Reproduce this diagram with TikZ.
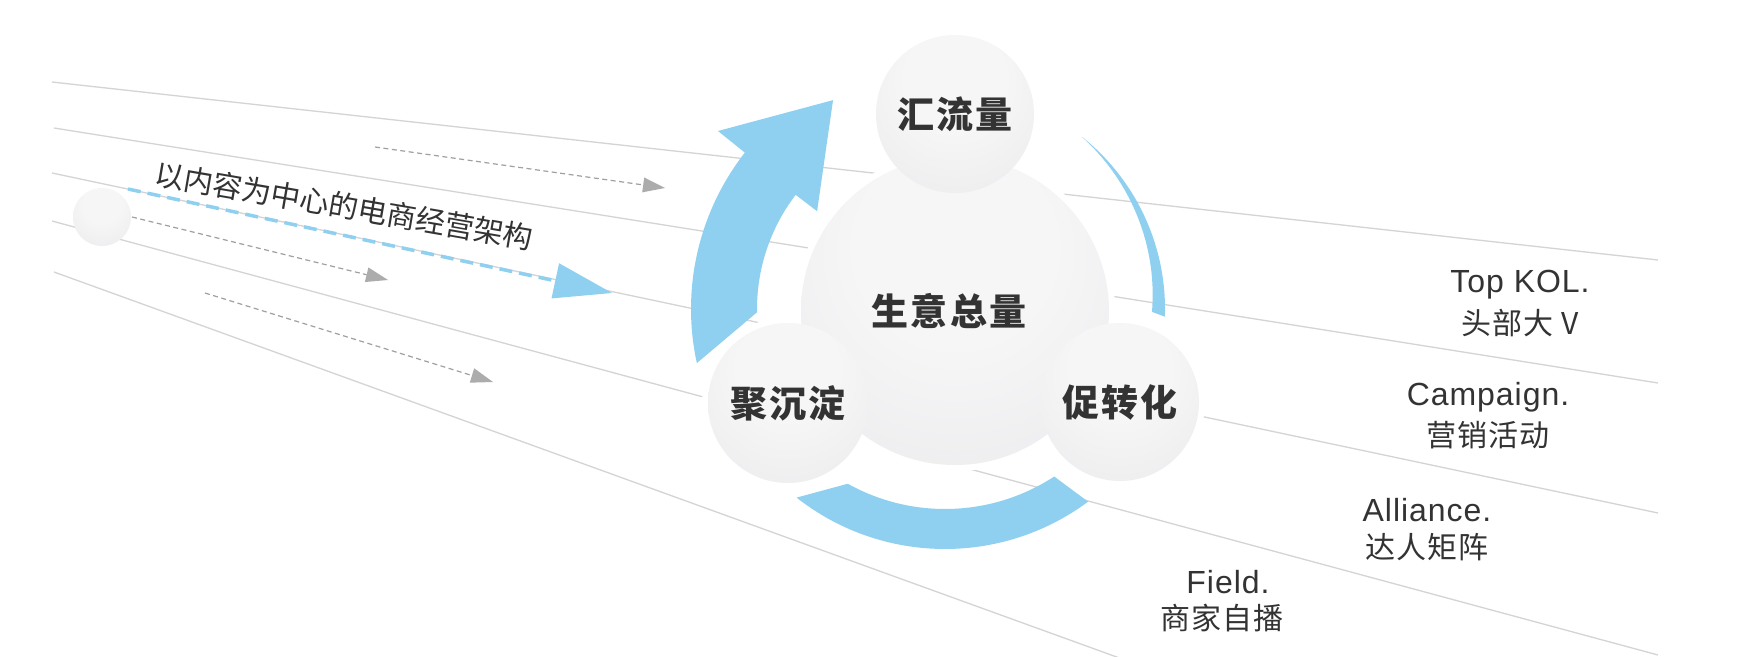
\documentclass[tikz,border=0pt]{standalone}
\usepackage{fontspec}
\setmainfont{Liberation Sans}
\newfontfamily\cjk{Noto Sans CJK SC}
\usetikzlibrary{calc}
\definecolor{arcblue}{RGB}{143,208,240}
\definecolor{linegray}{RGB}{212,212,212}
\definecolor{dashgray}{RGB}{160,160,160}
\definecolor{headgray}{RGB}{172,172,172}
\definecolor{txt}{RGB}{51,51,51}
\definecolor{ballin}{RGB}{246,246,247}
\definecolor{ballmid}{RGB}{233,233,235}
\definecolor{ballout}{RGB}{203,203,207}
\pgfdeclareradialshading{ballshade}{\pgfpoint{0bp}{14bp}}{color(0bp)=(ballin); color(16bp)=(ballin); color(44bp)=(ballmid); color(64bp)=(ballout)}
\begin{document}
\begin{tikzpicture}[x=1pt,y=1pt,
  guide/.style={draw=linegray, line width=1.3pt},
  dashline/.style={draw=dashgray, line width=1.2pt, dash pattern=on 5pt off 3.5pt},
  headg/.style={fill=headgray},
  bluedash/.style={draw=arcblue, line width=3.5pt, dash pattern=on 13pt off 7pt},
  ball/.style={circle, shade, shading=ballshade, inner sep=0pt, text=txt},
  lbl/.style={font=\cjk\bfseries\fontsize{37}{40}\selectfont\addfontfeatures{LetterSpace=6}},
  lat/.style={font=\fontsize{32}{36}\selectfont\addfontfeatures{LetterSpace=3}, text=txt, inner sep=0pt},
  cn/.style={font=\cjk\fontsize{30}{34}\selectfont\addfontfeatures{LetterSpace=3}, text=txt, inner sep=0pt}
]
\useasboundingbox (0,0) rectangle (1761,-656);
\fill[white] (0,0) rectangle (1761,-656);

% perspective guide lines
\coordinate (l1a) at (52,-82);   \coordinate (l1b) at (1658,-260);
\coordinate (l2a) at (54,-128);  \coordinate (l2b) at (1658,-383);
\coordinate (l3a) at (52,-173);  \coordinate (l3b) at (1658,-513);
\coordinate (l4a) at (52,-221);  \coordinate (l4b) at (1658,-655);
\coordinate (l5a) at (54,-272);  \coordinate (l5b) at (1125,-660);
\foreach \i in {1,...,5} {\draw[guide] (l\i a) -- (l\i b);}

% dashed grey arrows
\coordinate (d1s) at (375,-147); \coordinate (d1t) at (665,-188);
\coordinate (d2s) at (132,-217); \coordinate (d2t) at (388,-280);
\coordinate (d3s) at (205,-293); \coordinate (d3t) at (493,-382);
\foreach \p/\q in {d1s/d1t, d2s/d2t, d3s/d3t} {
  \coordinate (\q b) at ($(\q)!22pt!(\p)$);
  \draw[dashline] (\p) -- (\q b);
  \fill[headg] (\q) -- ($(\q b)!7.5pt!90:(\q)$) -- ($(\q b)!7.5pt!-90:(\q)$) -- cycle;
}

% blue dashed arrow
\coordinate (bs) at (128,-189); \coordinate (bt) at (612,-293);
\coordinate (bb) at ($(bt)!58pt!(bs)$);
\draw[bluedash] (bs) -- ($(bt)!52pt!(bs)$);
\fill[arcblue] (bt) -- ($(bb)!18pt!90:(bt)$) -- ($(bb)!18pt!-90:(bt)$) -- cycle;

% rotated title
\node[text=txt, inner sep=0pt, font=\cjk\fontsize{29.5}{32}\selectfont, rotate=-9.8] (title) at (344,-206) {以内容为中心的电商经营架构};

% blue cycle arcs
\coordinate (C) at (945,-309);
\fill[arcblue] ($(C)+(192.3:254)$) arc[start angle=192.3, end angle=142, radius=254]
  -- ($(C)+(141.9:288.5)$) -- ($(C)+(118.2:237)$) -- ($(C)+(142.6:161)$)
  -- ($(C)+(142.6:188)$) arc[start angle=142.6, end angle=181, radius=188] -- cycle;
\fill[arcblue] ($(C)+(231.8:240)$) arc[start angle=231.8, end angle=306.6, radius=240]
  -- ($(C)+(303.1:200)$) arc[start angle=303.1, end angle=240.9, radius=200] -- cycle;
\fill[arcblue] ($(C)+(51.5:220)$) arc[start angle=51.5, end angle=-2, radius=220]
  -- ($(C)+(-0.8:207)$)
  -- plot[domain=-0.8:51.5, samples=30, variable=\t] ({945+(207+13*(\t+0.8)/52.3)*cos(\t)}, {-309+(207+13*(\t+0.8)/52.3)*sin(\t)})
  -- cycle;

% halos
\fill[white] (955,-311) circle[radius=160];
\fill[white] (955,-114) circle[radius=85];
\fill[white] (788,-403) circle[radius=86];
\fill[white] (1120,-402) circle[radius=85];

% circles
\node[ball, minimum size=58pt] (dot) at (102,-217) {};
\node[ball, lbl, minimum size=308pt] (total) at (955,-311) {\raisebox{3pt}{\hspace*{-12pt}生意总量}};
\node[ball, lbl, minimum size=158pt] (flow) at (955,-114) {汇流量};
\node[ball, lbl, minimum size=160pt] (keep) at (788,-403) {聚沉淀};
\node[ball, lbl, minimum size=158pt] (conv) at (1120,-402) {促转化};

% right labels
\node[lat] (kol) at (1520,-285) {Top KOL.};
\node[cn] (kolc) at (1520,-323) {头部大 V};
\node[lat] (camp) at (1488,-397) {Campaign.};
\node[cn] (campc) at (1488,-435) {营销活动};
\node[lat] (alli) at (1427,-510) {Alliance.};
\node[cn] (allic) at (1427,-547) {达人矩阵};
\node[lat] (field) at (1228,-582) {Field.};
\node[cn] (fieldc) at (1222,-618) {商家自播};
\end{tikzpicture}
\end{document}
